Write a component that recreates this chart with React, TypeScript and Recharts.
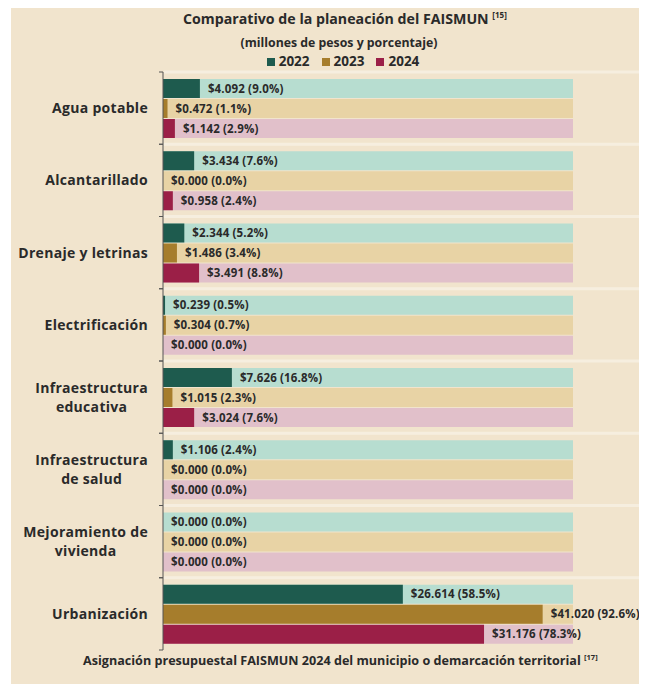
import React from "react";
import { BarChart, Bar, XAxis, YAxis, LabelList } from "recharts";

const categories = [
  "Agua potable",
  "Alcantarillado",
  "Drenaje y letrinas",
  "Electrificación",
  "Infraestructura educativa",
  "Infraestructura de salud",
  "Mejoramiento de vivienda",
  "Urbanización",
];

// millones de pesos
const amounts2022 = [4.092, 3.434, 2.344, 0.239, 7.626, 1.106, 0.0, 26.614];
const amounts2023 = [0.472, 0.0, 1.486, 0.304, 1.015, 0.0, 0.0, 41.02];
const amounts2024 = [1.142, 0.958, 3.491, 0.0, 3.024, 0.0, 0.0, 31.176];

// porcentaje
const pct2022 = [9.0, 7.6, 5.2, 0.5, 16.8, 2.4, 0.0, 58.5];
const pct2023 = [1.1, 0.0, 3.4, 0.7, 2.3, 0.0, 0.0, 92.6];
const pct2024 = [2.9, 2.4, 8.8, 0.0, 7.6, 0.0, 0.0, 78.3];

const years = ["2022", "2023", "2024"];

// wrapped label lines for the y axis
const labelLines: Record<string, string[]> = {
  "Infraestructura educativa": ["Infraestructura", "educativa"],
  "Infraestructura de salud": ["Infraestructura", "de salud"],
  "Mejoramiento de vivienda": ["Mejoramiento de", "vivienda"],
};

const fmt = (amt: number, pc: number) => `$${amt.toFixed(3)} (${pc.toFixed(1)}%)`;

const chartData = categories.map((name, i) => ({
  name,
  p2022: pct2022[i],
  p2023: pct2023[i],
  p2024: pct2024[i],
  l2022: fmt(amounts2022[i], pct2022[i]),
  l2023: fmt(amounts2023[i], pct2023[i]),
  l2024: fmt(amounts2024[i], pct2024[i]),
}));

const colors = { "2022": "#1e5b4e", "2023": "#a67d2c", "2024": "#9b1f47" };
const tracks = { "2022": "#b7ddd0", "2023": "#e8d3a5", "2024": "#e1c0ca" };

const FONT = "'Open Sans', sans-serif";
const TEXT = "#2a2a2a";

const CHART_W = 636;
const CHART_H = 676;
const M_TOP = 64;
const M_BOTTOM = 34;
const AXIS_W = 152;
const PLOT_H = CHART_H - M_TOP - M_BOTTOM;
const BAND = PLOT_H / categories.length;

let canvasCtx: CanvasRenderingContext2D | null = null;
function measure(text: string, font: string, spacing: number) {
  if (!canvasCtx) canvasCtx = document.createElement("canvas").getContext("2d");
  if (!canvasCtx) return text.length * 8;
  canvasCtx.font = font;
  return canvasCtx.measureText(text).width + spacing * text.length;
}

const CategoryTick = (props: any) => {
  const { y, payload } = props;
  const axisX = AXIS_W;
  const right = axisX - 15;
  const lines = labelLines[payload.value] || [payload.value];
  const font = `bold 14px ${FONT}`;
  const maxW = Math.max(...lines.map((l) => measure(l, font, 0.3)));
  const cx = right - maxW / 2;
  const y0 = y - ((lines.length - 1) * 19) / 2;
  return (
    <g>
      <rect x={axisX + 1} y={y - BAND / 2 - 1.5} width={CHART_W - axisX} height={3} fill="#f6eedf" />
      <line x1={axisX - 4} x2={axisX} y1={y - BAND / 2} y2={y - BAND / 2} stroke="#555" />
      <line x1={axisX - 4} x2={axisX} y1={y + BAND / 2} y2={y + BAND / 2} stroke="#555" />
      {lines.map((l, k) => (
        <text
          key={k}
          x={cx}
          y={y0 + k * 19}
          dy="0.35em"
          textAnchor="middle"
          fontFamily={FONT}
          fontWeight="bold"
          fontSize={14}
          letterSpacing={0.3}
          fill={TEXT}
        >
          {l}
        </text>
      ))}
    </g>
  );
};

const BarLabel = (props: any) => {
  const { x, y, width, height, value } = props;
  return (
    <text
      x={x + width + 8}
      y={y + height / 2}
      dy="0.35em"
      fontFamily={FONT}
      fontWeight="bold"
      fontSize={11.5}
      letterSpacing={0.15}
      fill={TEXT}
    >
      {value}
    </text>
  );
};

const Legend = () => (
  <div
    style={{
      position: "absolute",
      top: 44,
      left: 32,
      width: 600,
      textAlign: "center",
      fontFamily: FONT,
      fontWeight: "bold",
      fontSize: 13.5,
      color: TEXT,
      whiteSpace: "nowrap",
    }}
  >
    {years.map((yr, i) => (
      <span key={yr} style={{ marginRight: i < 2 ? 12 : 0 }}>
        <span
          style={{
            display: "inline-block",
            width: 8,
            height: 8,
            background: colors[yr],
            marginRight: 4,
          }}
        />
        {yr}
      </span>
    ))}
  </div>
);

export default function App() {
  return (
    <div
      style={{
        position: "relative",
        marginLeft: 3,
        width: CHART_W,
        height: CHART_H,
        background: "#f1e4cd",
        overflow: "hidden",
      }}
    >
      <div
        style={{
          position: "absolute",
          top: 1,
          left: 172,
          whiteSpace: "nowrap",
          fontFamily: FONT,
          fontWeight: "bold",
          fontSize: 14.2,
          color: TEXT,
        }}
      >
        Comparativo de la planeación del FAISMUN <sup style={{ fontSize: 8 }}>[15]</sup>
      </div>
      <div
        style={{
          position: "absolute",
          top: 26,
          left: 28,
          width: 600,
          textAlign: "center",
          fontFamily: FONT,
          fontWeight: "bold",
          fontSize: 12.3,
          color: TEXT,
        }}
      >
        (millones de pesos y porcentaje)
      </div>
      <Legend />
      <BarChart
        width={CHART_W}
        height={CHART_H}
        data={chartData}
        layout="vertical"
        margin={{ top: M_TOP, right: 74, bottom: M_BOTTOM, left: 0 }}
        barSize={19}
        barGap={1}
      >
        <XAxis type="number" domain={[0, 100]} hide />
        <YAxis
          type="category"
          dataKey="name"
          width={AXIS_W}
          axisLine={{ stroke: "#555" }}
          tickLine={false}
          tick={<CategoryTick />}
          interval={0}
        />
        {years.map((yr) => (
          <Bar
            key={yr}
            dataKey={`p${yr}`}
            fill={colors[yr]}
            background={{ fill: tracks[yr] }}
            minPointSize={0.01}
            isAnimationActive={false}
          >
            <LabelList dataKey={`l${yr}`} content={<BarLabel />} />
          </Bar>
        ))}
      </BarChart>
      <div
        style={{
          position: "absolute",
          top: 644,
          left: 72,
          whiteSpace: "nowrap",
          fontFamily: FONT,
          fontWeight: "bold",
          fontSize: 12.6,
          color: TEXT,
        }}
      >
        Asignación presupuestal FAISMUN 2024 del municipio o demarcación territorial{" "}
        <sup style={{ fontSize: 7.5 }}>[17]</sup>
      </div>
    </div>
  );
}
